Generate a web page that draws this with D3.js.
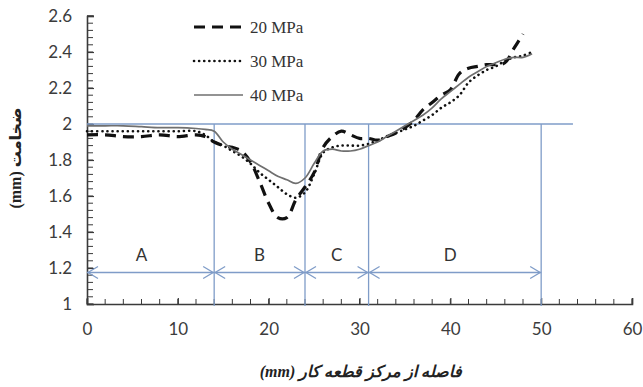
<!DOCTYPE html>
<html>
<head>
<meta charset="utf-8">
<script src="https://cdn.jsdelivr.net/npm/d3@7"></script>
<style>
  html, body { margin: 0; padding: 0; background: #fff; }
  svg { display: block; }
</style>
</head>
<body>
<svg id="chart" width="643" height="387"></svg>
<script>
// Distance from the workpiece centre (mm)
const distance = [0, 2, 4, 6, 8, 10, 12, 13, 14, 15, 16, 17, 18, 19, 20, 21, 22, 23, 24, 25,
  26, 27, 28, 29, 30, 31, 32, 33, 34, 35, 36, 37, 38, 39, 40, 41, 42, 43, 44, 45, 46, 47, 48, 49];

// Sheet thickness (mm) for each forming pressure
const thickness20 = [1.94, 1.94, 1.93, 1.93, 1.94, 1.93, 1.94, 1.93, 1.90, 1.88, 1.87, 1.85, 1.79, 1.68, 1.56, 1.48, 1.48, 1.58, 1.65, 1.73,
  1.87, 1.93, 1.96, 1.94, 1.92, 1.92, 1.91, 1.93, 1.95, 1.98, 2.02, 2.08, 2.12, 2.16, 2.19, 2.28, 2.31, 2.32, 2.33, 2.33, 2.34, 2.42, 2.50, null];
const thickness30 = [1.96, 1.96, 1.96, 1.96, 1.96, 1.96, 1.96, 1.94, 1.90, 1.88, 1.85, 1.82, 1.78, 1.73, 1.69, 1.65, 1.61, 1.59, 1.62, 1.72,
  1.84, 1.87, 1.88, 1.88, 1.88, 1.89, 1.91, 1.93, 1.95, 1.97, 1.99, 2.02, 2.05, 2.09, 2.12, 2.16, 2.23, 2.27, 2.30, 2.32, 2.35, 2.37, 2.38, 2.40];
const thickness40 = [1.99, 1.99, 1.99, 1.985, 1.98, 1.98, 1.975, 1.97, 1.96, 1.90, 1.86, 1.83, 1.80, 1.77, 1.74, 1.71, 1.69, 1.67, 1.70, 1.78,
  1.85, 1.86, 1.85, 1.85, 1.86, 1.88, 1.90, 1.93, 1.96, 1.99, 2.02, 2.05, 2.09, 2.14, 2.18, 2.22, 2.26, 2.29, 2.32, 2.34, 2.36, 2.37, 2.37, 2.39];

const seriesNames = ["20 MPa", "30 MPa", "40 MPa"];

// Zones along the profile
const zoneBounds = [0, 14, 24, 31, 50];
const zoneNames = ["A", "B", "C", "D"];
const zoneLabelX = [6, 19, 27.5, 40];
const zoneArrowY = 1.175;
const nominalThickness = 2;
const nominalLineEnd = 53.5;

const xTicks = [0, 10, 20, 30, 40, 50, 60];
const yTicks = [1, 1.2, 1.4, 1.6, 1.8, 2, 2.2, 2.4, 2.6];

const svg = d3.select("#chart");
const x = d3.scaleLinear().domain([0, 60]).range([87, 632]);
const y = d3.scaleLinear().domain([1, 2.6]).range([304, 16]);

const axisColor = "#3a3a3a";
const guideColor = "#7f9cc8";
const labelColor = "#3c3c3c";
const sansFont = "Lato, 'Open Sans', 'Liberation Sans', sans-serif";

// Minor ticks (inside the plot)
const xMinor = d3.range(0, 60.01, 2);
const yMinor = d3.range(1, 2.601, 0.04);
svg.append("g").selectAll("line").data(xMinor).join("line")
  .attr("x1", d => x(d)).attr("x2", d => x(d))
  .attr("y1", y(1)).attr("y2", y(1) - 5)
  .attr("stroke", axisColor).attr("stroke-width", 1);
svg.append("g").selectAll("line").data(yMinor).join("line")
  .attr("x1", x(0)).attr("x2", x(0) + 6)
  .attr("y1", d => y(d)).attr("y2", d => y(d))
  .attr("stroke", axisColor).attr("stroke-width", 1);

// Axes
const xAxis = svg.append("g").attr("transform", `translate(0,${y(1)})`)
  .call(d3.axisBottom(x).tickValues(xTicks).tickFormat(d3.format("d")).tickSize(-6).tickPadding(19));
const yAxis = svg.append("g").attr("transform", `translate(${x(0)},0)`)
  .call(d3.axisLeft(y).tickValues(yTicks).tickFormat(d => String(+d.toFixed(1))).tickSize(-7).tickPadding(15));
[xAxis, yAxis].forEach(g => {
  g.select(".domain").attr("stroke", axisColor).attr("stroke-width", 1.6);
  g.selectAll(".tick line").attr("stroke", axisColor).attr("stroke-width", 1.2);
  g.selectAll("text").attr("fill", labelColor)
    .style("font-family", sansFont).style("font-size", "17px");
});
yAxis.selectAll("text").attr("dy", "0.35em");
// Closing tick at the top of the y axis
svg.append("line").attr("x1", x(0)).attr("x2", x(0) + 7)
  .attr("y1", y(2.6)).attr("y2", y(2.6)).attr("stroke", axisColor).attr("stroke-width", 1.2);

// Zone guide lines
const guides = svg.append("g").attr("stroke", guideColor).attr("stroke-width", 1.3).attr("fill", "none");
guides.append("line")
  .attr("x1", x(0)).attr("x2", x(nominalLineEnd))
  .attr("y1", y(nominalThickness)).attr("y2", y(nominalThickness));
guides.selectAll("line.v").data(zoneBounds.slice(1)).join("line").attr("class", "v")
  .attr("x1", d => x(d)).attr("x2", d => x(d))
  .attr("y1", y(nominalThickness)).attr("y2", y(1) + 2);

// Double-headed arrows for each zone
const ay = y(zoneArrowY);
zoneNames.forEach((name, i) => {
  const a = x(zoneBounds[i]), b = x(zoneBounds[i + 1]);
  guides.append("line").attr("x1", a).attr("x2", b).attr("y1", ay).attr("y2", ay);
  guides.append("path").attr("d", `M${a + 11},${ay - 6}L${a + 1},${ay}L${a + 11},${ay + 6}`);
  guides.append("path").attr("d", `M${b - 11},${ay - 6}L${b - 1},${ay}L${b - 11},${ay + 6}`);
  svg.append("text").attr("x", x(zoneLabelX[i])).attr("y", ay - 12)
    .attr("text-anchor", "middle").attr("fill", "#333")
    .style("font-family", sansFont).style("font-size", "17px")
    .text(name);
});

// Thickness curves
const styles = [
  { stroke: "#111", width: 3.2, dash: "11,7", cap: "butt" },
  { stroke: "#111", width: 2.6, dash: "0.1,5", cap: "round" },
  { stroke: "#6f6f6f", width: 1.7, dash: null, cap: "butt" }
];
const series = [thickness20, thickness30, thickness40];
const line = d3.line()
  .defined(d => d[1] != null)
  .x(d => x(d[0])).y(d => y(d[1]))
  .curve(d3.curveCatmullRom.alpha(0.5));
series.forEach((vals, i) => {
  const st = styles[i];
  svg.append("path")
    .datum(distance.map((d, j) => [d, vals[j]]))
    .attr("d", line)
    .attr("fill", "none")
    .attr("stroke", st.stroke)
    .attr("stroke-width", st.width)
    .attr("stroke-linecap", st.cap)
    .attr("stroke-dasharray", st.dash);
});

// Legend
const legend = svg.append("g");
seriesNames.forEach((name, i) => {
  const ly = 27 + i * 34;
  const st = styles[i];
  legend.append("line").attr("x1", 194).attr("x2", 243).attr("y1", ly).attr("y2", ly)
    .attr("stroke", st.stroke).attr("stroke-width", st.width)
    .attr("stroke-linecap", st.cap).attr("stroke-dasharray", st.dash);
  legend.append("text").attr("x", 250).attr("y", ly).attr("dy", "0.35em")
    .attr("fill", "#333")
    .style("font-family", "'Liberation Serif', 'Times New Roman', serif").style("font-size", "17px")
    .text(name);
});

// Axis titles
svg.append("text")
  .attr("x", 361).attr("y", 377).attr("text-anchor", "middle")
  .attr("direction", "rtl").attr("fill", "#222")
  .style("font-family", "'Liberation Serif', 'DejaVu Sans', serif")
  .style("font-size", "16px").style("font-weight", "bold").style("font-style", "italic")
  .text("فاصله از مرکز قطعه کار (mm)");
svg.append("text")
  .attr("transform", "translate(21,158) rotate(-90)").attr("text-anchor", "middle")
  .attr("direction", "rtl").attr("fill", "#222")
  .style("font-family", "'Liberation Serif', 'DejaVu Sans', serif")
  .style("font-size", "16px").style("font-weight", "bold")
  .text("ضخامت (mm)");
</script>
</body>
</html>
